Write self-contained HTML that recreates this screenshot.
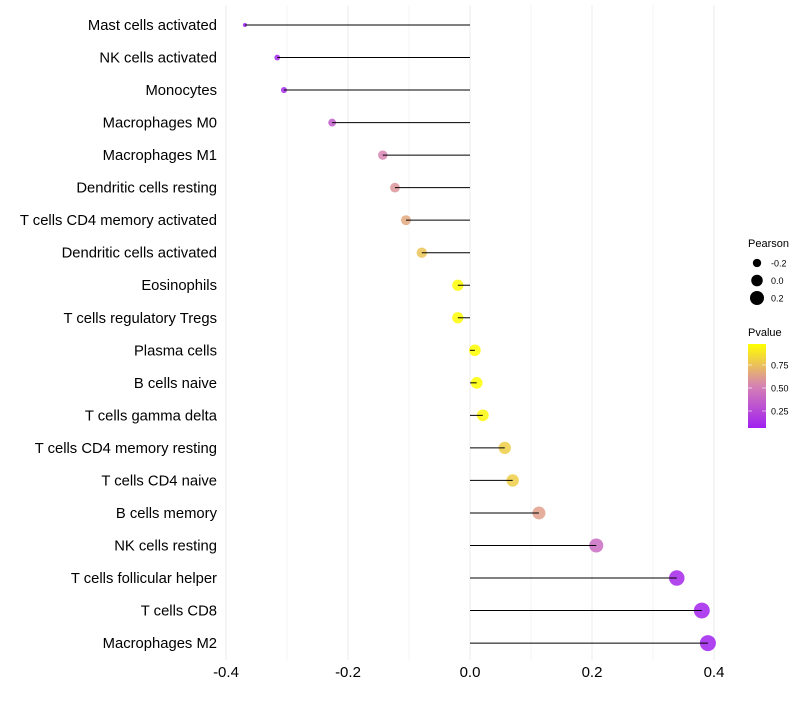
<!DOCTYPE html>
<html><head><meta charset="utf-8"><style>
body{margin:0;background:#fff;font-family:"Liberation Sans",sans-serif}
</style></head><body>
<svg id="c" width="800" height="700"></svg>
<script>
const categories=["Mast cells activated","NK cells activated","Monocytes","Macrophages M0","Macrophages M1","Dendritic cells resting","T cells CD4 memory activated","Dendritic cells activated","Eosinophils","T cells regulatory  Tregs ","Plasma cells","B cells naive","T cells gamma delta","T cells CD4 memory resting","T cells CD4 naive","B cells memory","NK cells resting","T cells follicular helper","T cells CD8","Macrophages M2"];
const pearson=[-0.369,-0.316,-0.305,-0.226,-0.143,-0.123,-0.105,-0.079,-0.020,-0.020,0.008,0.011,0.021,0.057,0.070,0.113,0.207,0.339,0.380,0.390];
const pvalues=[0.07,0.1,0.11,0.35,0.53,0.59,0.66,0.76,0.97,0.97,0.98,0.98,0.95,0.8,0.8,0.63,0.42,0.1,0.08,0.07];
const xTicks=[-0.4,-0.2,0,0.2,0.4];
const NS="http://www.w3.org/2000/svg";
const svg=document.getElementById('c');
const X=v=>470+v*610;
const Y=i=>25+i*32.53;
const R=v=>{const t=(v+0.37)/0.76;return Math.sqrt(4+t*60);};
function lerp(a,b,t){return a.map((x,k)=>Math.round(x+(b[k]-x)*t));}
function col(p){const t=Math.max(0,Math.min(1,(p-0.065)/(0.98-0.065)));
 const s=[[160,32,240],[214,130,180],[255,255,0]];
 const c=t<0.5?lerp(s[0],s[1],t*2):lerp(s[1],s[2],(t-0.5)*2);return `rgb(${c})`;}
function el(t,a,txt){const e=document.createElementNS(NS,t);for(const k in a)e.setAttribute(k,a[k]);if(txt!=null)e.textContent=txt;svg.appendChild(e);return e;}
for(let v=-0.4;v<=0.41;v+=0.1){const g=el('line',{x1:X(v),x2:X(v),y1:5,y2:660,stroke:Math.abs(Math.round(v*10))%2==0?'#ebebeb':'#f4f4f4','stroke-width':1});
}
xTicks.forEach(t=>{const e=el('text',{x:X(t),y:677,'font-size':15,'text-anchor':'middle',fill:'#000'},t.toFixed(1));
});
categories.forEach((c,i)=>{
 const l=el('text',{x:217,y:Y(i)+5,'font-size':14.8,'text-anchor':'end',fill:'#000'},c);
 
 const p=el('circle',{cx:X(pearson[i]),cy:Y(i),r:R(pearson[i]),fill:col(pvalues[i]),'fill-opacity':0.85});
 
 const s=el('line',{x1:X(0),x2:X(pearson[i]),y1:Y(i),y2:Y(i),stroke:'#000','stroke-width':1});
 
});
const lt=el('text',{x:748,y:247,'font-size':11},'Pearson');
[-0.2,0,0.2].forEach((v,k)=>{const y=263+k*17.5;
 const c=el('circle',{cx:757,cy:y,r:R(v),fill:'#000'});
 const t=el('text',{x:771,y:y+3.5,'font-size':9},v.toFixed(1));});
const pt=el('text',{x:748,y:336,'font-size':11},'Pvalue');
const defs=el('defs',{});const lg=document.createElementNS(NS,'linearGradient');lg.id='g';lg.setAttribute('x1',0);lg.setAttribute('x2',0);lg.setAttribute('y1',1);lg.setAttribute('y2',0);defs.appendChild(lg);
for(let k=0;k<=10;k++){const st=document.createElementNS(NS,'stop');st.setAttribute('offset',k/10);st.setAttribute('stop-color',col(0.065+k/10*(0.98-0.065)));lg.appendChild(st);}
const bar=el('rect',{x:748,y:344,width:18,height:84,fill:'url(#g)'});
[0.25,0.5,0.75].forEach(v=>{const y=388-(v-0.5)*92;
 el('line',{x1:748,x2:752,y1:y,y2:y,stroke:'#fff','stroke-width':0.6});el('line',{x1:762,x2:766,y1:y,y2:y,stroke:'#fff','stroke-width':0.6});
 const t=el('text',{x:771,y:y+3.5,'font-size':9},v.toFixed(2));});
</script>
</body></html>
